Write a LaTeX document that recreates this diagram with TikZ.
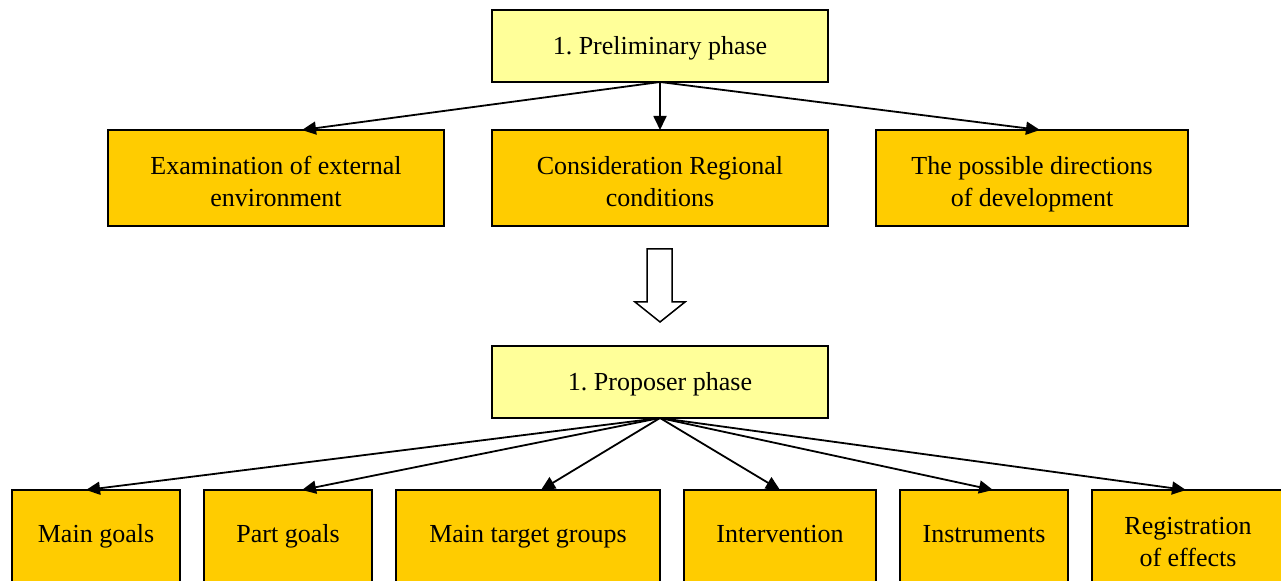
\documentclass[tikz,border=0pt]{standalone}
\usepackage{fontspec}
\setmainfont{Liberation Serif}
\usetikzlibrary{arrows.meta}
\definecolor{lightbox}{HTML}{FFFF99}
\definecolor{darkbox}{HTML}{FFCC00}
\tikzset{
  box/.style={draw=black, line width=1pt, inner sep=0pt, outer sep=0pt},
  phasebox/.style={box, fill=lightbox, minimum width=168pt, minimum height=36pt},
  midbox/.style={box, fill=darkbox, minimum height=48pt},
  lowbox/.style={box, fill=darkbox, minimum height=48pt},
  txt/.style={inner sep=0pt, outer sep=0pt, align=center,
    font=\fontsize{13}{16}\selectfont\frenchspacing, text=black},
  conn/.style={line width=0.9pt, -{Triangle[length=7pt,width=6.5pt]}},
}
\begin{document}
\begin{tikzpicture}[x=0.5pt,y=-0.5pt]
\useasboundingbox (0,0) rectangle (1281,581);
\clip (0,0) rectangle (1281,581);
\fill[white] (0,0) rectangle (1281,581);

% top
\node[phasebox] (pre) at (660,46) {};
\node[txt] (preT) at (660,48.6) {\strut 1. Preliminary phase};
\node[midbox, minimum width=168pt] (ext) at (276,178) {};
\node[txt] (extT) at (276,184.6) {\strut Examination of external\\\strut environment};
\node[midbox, minimum width=168pt] (reg) at (660,178) {};
\node[txt] (regT) at (660,184.6) {\strut Consideration Regional\\\strut conditions};
\node[midbox, minimum width=156pt] (dir) at (1032,178) {};
\node[txt] (dirT) at (1032,184.6) {\strut The possible directions\\\strut of development};

\draw[conn] (pre.south) -- ([xshift=13pt]ext.north);
\draw[conn] (pre.south) -- (reg.north);
\draw[conn] (pre.south) -- ([xshift=4pt]dir.north);

% hollow arrow
\draw[line width=0.75pt, fill=white] (647,249) -- (672,249) -- (672,302) -- (685,302) -- (660,322) -- (635,302) -- (647,302) -- cycle;

% proposer
\node[phasebox] (pro) at (660,382) {};
\node[txt] (proT) at (660,384.6) {\strut 1. Proposer phase};

\node[lowbox, minimum width=84pt] (mg) at (96,538) {};
\node[txt] (mgT) at (96,536.6) {\strut Main goals};
\node[lowbox, minimum width=84pt] (pg) at (288,538) {};
\node[txt] (pgT) at (288,536.6) {\strut Part goals};
\node[lowbox, minimum width=132pt] (tg) at (528,538) {};
\node[txt] (tgT) at (528,536.6) {\strut Main target groups};
\node[lowbox, minimum width=96pt] (iv) at (780,538) {};
\node[txt] (ivT) at (780,536.6) {\strut Intervention};
\node[lowbox, minimum width=84pt] (in) at (984,538) {};
\node[txt] (inT) at (984,536.6) {\strut Instruments};
\node[lowbox, minimum width=96pt] (re) at (1188,538) {};
\node[txt] (reT) at (1188,544.6) {\strut Registration\\\strut of effects};

\draw[conn] (pro.south) -- ([xshift=-5pt]mg.north);
\draw[conn] (pro.south) -- ([xshift=7pt]pg.north);
\draw[conn] (pro.south) -- ([xshift=6.5pt]tg.north);
\draw[conn] (pro.south) -- (iv.north);
\draw[conn] (pro.south) -- ([xshift=4.5pt]in.north);
\draw[conn] (pro.south) -- ([xshift=-1pt]re.north);
\end{tikzpicture}
\end{document}
